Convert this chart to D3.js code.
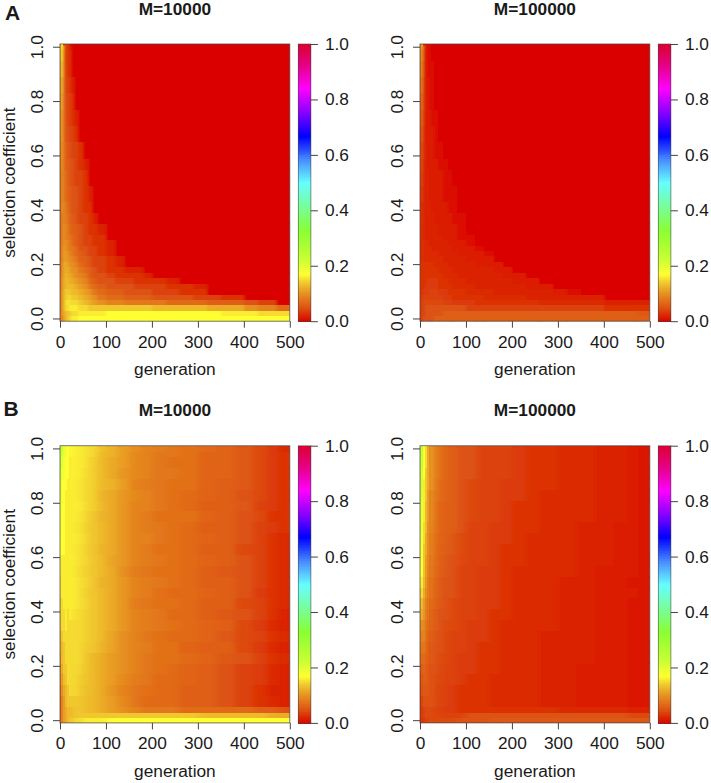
<!DOCTYPE html>
<html><head><meta charset="utf-8">
<script src="https://cdnjs.cloudflare.com/ajax/libs/d3/7.8.5/d3.min.js"></script>
<style>
html,body{margin:0;padding:0;background:#fff}
svg{display:block}
text{font-family:"Liberation Sans",Arial,sans-serif;fill:#1a1a1a}
</style></head><body>
<script>
// ---- data: values in hundredths; missing trailing cells are 0
const xTicks = [0,100,200,300,400,500];
const yTicks = [0,0.2,0.4,0.6,0.8,1.0];
const barTicks = [0,0.2,0.4,0.6,0.8,1.0];
const panelTitles = ["M=10000","M=100000"];
const panelLetters = ["A","B"];

const genA = [0,3,6,10,15,20,25,30,40,50,60,70,80,100,120,140,160,180,200,230,260,290,320,350,400,430,470];
const selA = [0,.02,.04,.06,.08,.10,.12,.14,.16,.18,.20,.22,.24,.26,.28,.30,.32,.36,.40,.44,.50,.56,.60,.66,.72,.78,.84,.90,.96,1.0];
const genB = [0,3,6,10,15,20,30,40,50,60,80,100,125,150,175,200,230,260,300,340,380,420,450,475];
const selB = [0,.02,.04,.06,.10,.14,.18,.22,.26,.30,.34,.38,.42,.46,.50,.54,.58,.62,.66,.70,.74,.78,.82,.86,.90,.94,.98,1.0];

const a10000 = [
[7,9,11,13,14,15,16,16,17,17,17,17,17,17,17,17,17,17,17,17,17,17,17,17,17,17,17],
[7,10,12,13,14,14,15,15,16,16,16,16,16,17,17,17,17,17,17,17,17,17,17,16,16,15,15],
[7,10,13,15,15,16,16,16,15,15,14,14,14,14,14,14,14,14,13,13,13,13,12,12,10,9,7],
[7,10,13,15,16,15,15,15,14,13,12,11,10,9,9,8,8,8,8,7,7,7,6,6,5,4],
[7,10,13,14,15,15,14,14,13,12,11,10,8,7,7,6,6,6,5,5,5,4,4,3],
[7,10,13,14,14,14,13,13,12,11,10,8,7,6,6,5,5,5,4,4,3,3],
[6,10,12,13,13,13,13,12,11,10,8,7,6,5,5,5,4,4,4,3,3,2],
[6,10,12,13,13,12,12,11,10,9,7,6,5,5,4,4,3,3,3,2],
[6,9,12,13,12,12,11,10,9,8,6,5,5,4,3,3,3,2],
[6,9,12,12,12,11,10,10,8,7,6,5,4,3,3,2,2],
[6,9,12,12,11,10,10,9,7,6,5,4,4,3,2],
[6,9,11,11,10,10,9,8,6,6,5,4,4,3,2],
[6,9,11,11,10,9,8,7,6,5,4,4,3,2],
[5,9,11,10,9,8,8,7,5,5,4,4,3,2],
[5,9,10,10,9,8,7,6,5,4,4,3,3,2],
[5,9,10,9,8,8,7,6,5,4,4,3,3],
[5,9,10,9,8,7,6,6,5,4,3,3,2],
[5,9,9,8,8,6,6,5,4,4,3,2],
[5,10,9,8,7,6,5,5,4,3,3],
[5,10,8,7,6,6,5,5,4,3,2],
[5,10,8,7,6,5,5,4,4,3],
[5,11,7,6,6,5,5,4,3,2],
[6,11,7,6,5,5,4,4,3],
[6,12,6,5,5,4,4,3],
[6,12,6,5,4,4,3,2],
[7,13,5,5,4,4,3],
[7,14,5,4,4,3,2],
[8,15,5,4,3,3],
[9,16,4,4,3,3],
[10,17,4,4,3,2]];

const a100000 = [
[3,4,5,5,5,5,5,6,6,6,6,6,6,6,6,6,6,6,6,6,6,6,6,6,6,6,6],
[3,4,4,5,5,5,5,5,5,6,6,6,6,6,6,6,6,6,6,6,6,6,6,6,6,6,5.5],
[3,4,4,5,5,5,5,5,5,5,5,5,5,4,4,4,4,4,4,4,4,4,4,4,3,3,3],
[3,4,4,4.5,4.5,4.5,4.5,4.5,4.5,4,4,3.5,3.5,3.5,3,3,3,3,3,3,2.5,2.5,2.5,2.5,2,2,2],
[3,3.5,4,4,4,4,4,4,4,3.5,3.5,3,3,3,3,2.5,2.5,2.5,2.5,2,2,2,2,2],
[3,3,3.5,3.5,3.5,4,4,4,3.5,3.5,3,3,3,2.5,2.5,2.5,2,2,2,2,2,1.5,1],
[3,3,3,3.5,3.5,3.5,3.5,3.5,3,3,3,2.5,2.5,2.5,2,2,2,2,2,1.5,1.5],
[3,3,3,3,3.5,3.5,3.5,3.5,3,3,2.5,2.5,2.5,2,2,2,2,2,1.5,1.5],
[3,3,3,3,3,3,3,3,3,2.5,2.5,2.5,2,2,2,2,2,1.5,1.5],
[3,3,3,3,3,3,3,3,2.5,2.5,2.5,2,2,2,2,2,1.5,1.5],
[3,3,3,3,3,3,3,2.5,2.5,2.5,2,2,2,2,1.5,1.5,1.5],
[2.5,3,2.5,2.5,2.5,2.5,2.5,2.5,2.5,2,2,2,2,1.5,1.5,1.5],
[2.5,3,2.5,2.5,2.5,2.5,2.5,2.5,2,2,2,2,1.5,1.5,1.5,1],
[2.5,3,2.5,2.5,2.5,2.5,2,2,2,2,2,1.5,1.5,1.5,1],
[2.5,3,2.5,2.5,2,2,2,2,2,2,1.5,1.5,1.5,1],
[2.5,3,2,2,2,2,2,2,2,1.5,1.5,1.5,1,1],
[2.5,3,2,2,2,2,2,2,1.5,1.5,1.5,1.5,1],
[3,3,2,2,2,2,2,1.5,1.5,1.5,1.5,1,1],
[3,3,2,2,2,2,1.5,1.5,1.5,1.5,1,1],
[3,3.5,2,2,2,1.5,1.5,1.5,1.5,1,1,1],
[4,4,2,2,2,1.5,1.5,1.5,1.5,1,1],
[4,4.5,2,2,1.5,1.5,1.5,1.5,1,1],
[4,5,2,2,1.5,1.5,1.5,1,1],
[4,6,2,1.5,1.5,1.5,1.5,1],
[5,7,2,1.5,1.5,1.5,1,1],
[5,8,2,1.5,1.5,1,1],
[6,9,2,1.5,1.5,1,1],
[7,10,2,1.5,1,1,1],
[7,11,2,1.5,1,1],
[8,12,2,1.5,1,1]];

const b10000 = [
[7,9,11,12,13,14,15,15,16,16,16,17,17,17,17,17,17,17,17,17,17,17,17,17],
[6,9,11,12,13,13,14,14,14,14,14,14,14,14,14,14,14,14,13,13,13,13,12,12],
[6,9,11,12,13,13,14,14,13,13,12,11,10,9,8,8,8,7,7,7,7,6,6,5],
[6,9,11,13,14,14,14,14,13,13,12,11,9.5,8,7,7,7,6,6,5,4,3,2.5,2],
[7,10,12,13,14,15,15,14,13.5,13,12,10.5,9,8,7.5,7,7,6,6,5,4,3,2,2],
[8,11,13,14,15,15,15,14,14,13,12,11,9.5,8.5,8,7,7,6.5,6,5,4,3.5,2.5,2],
[9,12,14,14,15,15,15,14.5,14,13,12,11,10,9,8,7.5,7,6.5,6,5,4,3.5,2.5,2],
[10,13,14,15,15,15,15,15,14,13,12,11,10,9,8,7.5,7.5,7,6.5,5.5,5,4,3,2.5],
[11,13,14,15,15,15,15,15,14,14,12.5,11.5,10,9,8.5,7.5,7.5,6.5,6,6,4.5,3.5,2.5,2],
[12,14,15,15,15,15,15,15,14.5,14,13,11.5,10,9,8,7.5,7,7,6.5,5.5,4.5,4,3,2.5],
[13,15,15,16,15,15,15,15,14.5,14,13,12,10.5,9,8.5,8,7.5,7,6.5,6,4.5,3.5,2.5,2],
[13,15,15,16,15,16,15,15,14.5,14,13,12,10.5,9,8.5,8,7,7,6,5.5,5,4,3,2],
[14,15,16,16,16,16,16,15,15,14,13,12,10.5,8.5,8,7.5,7.5,7,6,6,4.5,4,3,2.5],
[15,16,16,16,16,16,16,15,14.5,14,13,12,10.5,9,8.5,7.5,7,7,6.5,6,5,3.5,3,2.5],
[15,16,16,16,16,16,16,15,15,14,12.5,12,10.5,9,8.5,8,7.5,7,6,6,5,4,3,2.5],
[16,16,16,16,16,16,15.5,15,14.5,14,13,12,10,8.5,8,7.5,7.5,7,6,5.5,5,4,3,2.5],
[16,16,16,16,16,16,16,15,15,14,13,11.5,10.5,9,8.5,8,7.5,7,6.5,6,5,4,3,2.5],
[17,17,17,16,16,16,15.5,15.5,14.5,14,12.5,12,10.5,9,8.5,7.5,7.5,7,6,6,4.5,4,3,2.5],
[17,17,17,16,16,16,16,15.5,15,14,13,12,10.5,9,9,8,7.5,7,6.5,6,5,4,3,2.5],
[18,17,17,16,16,16,15.5,15.5,14.5,14,13,12,10.5,9,8.5,8,7.5,7,6,6,5,4,3.5,3],
[18,17,17,16,16,16,16,15.5,15,14,12.5,12,10.5,9,8.5,7.5,7.5,7.5,6.5,6,5,4.5,3,3],
[18,18,17,16,16,16,16,16,15,14.5,13,12,10.5,9,9,8,7.5,7,6,6,5.5,4,3.5,3],
[19,18,17,16,16,16,16,15.5,15,14.5,12.5,12,10.5,9.5,9,8,7.5,7,6.5,6,5,4.5,3.5,3],
[20,18,17,17,16,16,16,15.5,15,14.5,13,12.5,11,9,8.5,8,7.5,7.5,6.5,6,5.5,4.5,3.5,3],
[21,19,18,17,17,16,16,16,15,14.5,13,12,10.5,9.5,9,8,8,7.5,6.5,6.5,5.5,4.5,3.5,3],
[23,20,18,17,17,16,16,16,15.5,14.5,13,12,11,9.5,9,8,7.5,7.5,6.5,6.5,5.5,4.5,3.5,3],
[25,21,19,18,17,16.5,16,16,15.5,15,13,12.5,11,9.5,9,8,8,7.5,6.5,6.5,5.5,4.5,3.5,3],
[27,22,19,18,17,16.5,16,16,15.5,15,13.5,12.5,11,10,9,8.5,8,7.5,7,6.5,5.5,4.5,3.5,2.5]];

const b100000 = [
[2.5,3,3.5,4,4,4.5,4.5,4.5,4.5,4.5,5,5,5,5.5,5.5,5.5,5.5,5.5,5.5,5.5,5.5,5.5,5.5,5.5],
[3,3.5,4,4.5,4.5,4.5,4.5,4,4,4,4,5,5,5,5,5,5,5,5,5,5,5,4.5,4.5],
[3,3.5,4,4.5,4.5,4.5,4,4,3.5,3.5,3,3,3,3,3,3,3,3,2.5,2.5,2.5,2.5,2,2],
[3,4,5,5,5,5,4.5,4,4,3.5,3,3,3,2.5,2.5,2.5,2.5,2,2,1.5,1.5,1.5,1.2,1.2],
[3.5,5,5.5,5.5,5.5,5,4.5,4,4,3.5,3,3,3,2.5,2.5,2.5,2.5,2,2,1.5,1.5,1.5,1.2,1.2],
[4,5.5,6,6,5.5,5,4.5,4.5,4,4,3.5,3,3,2.5,2.5,2.5,2.5,2,2,1.5,1.5,1.5,1.2,1.2],
[5,6,6.5,6,5.5,5,5,4.5,4,4,3.5,3.5,3,3,2.5,2.5,2.5,2,2,1.5,1.5,1.5,1.2,1.2],
[6,7,7,6.5,6,5.5,5,4.5,4.5,4,3.5,3.5,3,3,2.5,2.5,2.5,2,2,2,1.5,1.5,1.2,1.2],
[7,8,8,7,6,5.5,5,5,4.5,4,4,3.5,3,3,2.5,2.5,2.5,2,2,2,1.5,1.5,1.2,1.2],
[8,9,9,7.5,6.5,6,5,5,4.5,4,4,3.5,3.5,3,2.5,2.5,2.5,2,2,2,1.5,1.5,1.2,1.2],
[9,10,9.5,8,7,6.5,5.5,5,4.5,4.5,4,3.5,3.5,3,2.5,2.5,2.5,2.5,2,2,1.5,1.5,1.2,1.2],
[11,12,10.5,8.5,7.5,6.5,5.5,5,5,4.5,4,4,3.5,3,3,2.5,2.5,2.5,2,2,1.5,1.5,1.2,1.2],
[12,13,11,9,8,7,6,5.5,5,4.5,4,4,3.5,3.5,3,2.5,2.5,2.5,2,2,1.5,1.5,1.2,1.2],
[14,15,12,10,8.5,7.5,6.5,5.5,5,5,4,4,3.5,3.5,3,2.5,2.5,2.5,2,2,1.5,1.5,1.5,1.2],
[16,16,13,10.5,8.5,7.5,6.5,5.5,5,5,4,4,3.5,3.5,3,2.5,2.5,2.5,2,2,1.5,1.5,1.2,1.2],
[17,17,13.5,11,9,8,6.5,6,5.5,5,4,4,3.5,3.5,3,2.5,2.5,2.5,2.5,2,1.5,1.5,1.5,1.2],
[18,17,14,11,9.5,8,7,6,5.5,5,4.5,4,4,3.5,3,3,2.5,2.5,2.5,2,2,1.5,1.5,1.2],
[19,18,14,12,10,8.5,7,6,6,5.5,4.5,4,4,3.5,3,3,2.5,2.5,2.5,2,2,1.5,1.5,1.2],
[20,18,15,12,10,8.5,7,6.5,6,5.5,4.5,4,4,3.5,3.5,3,2.5,2.5,2.5,2,2,1.5,1.5,1.2],
[21,19,15,13,10,9,7.5,6.5,6,6,5,4,4,3.5,3.5,3,3,2.5,2.5,2,2,1.5,1.5,1.2],
[21,19,16,13,11,9,7.5,6.5,6,6,5,4.5,4,4,3.5,3,3,2.5,2.5,2.5,2,2,1.5,1.2],
[22,19,16,13,11,9,7.5,6.5,6,6,5,4.5,4,4,3.5,3,3,2.5,2.5,2.5,2,2,1.5,1.2],
[23,20,16,14,11,9,8,7,6.5,6,5,4.5,4,4,3.5,3.5,3,2.5,2.5,2.5,2,2,1.5,1.2],
[24,21,16,14,12,10,8,7,6.5,6,5,4.5,4,4,3.5,3.5,3,3,2.5,2.5,2,2,1.5,1.2],
[24,21,17,14,12,10,8.5,7.5,6.5,6,5,5,4,4,4,3.5,3,3,2.5,2.5,2,2,1.5,1.2],
[25,22,17,15,12,10,8.5,7.5,6.5,6,5,5,4,4,4,3.5,3,3,2.5,2.5,2,2,1.5,1.2],
[26,22,17,15,12,10,8.5,7.5,6.5,6,5,5,4,4,4,3.5,3,3,2.5,2.5,2,2,1.5,1.2],
[27,23,17,15,12,10,8.5,7.5,6.5,6,5,5,4,4,4,3.5,3,3,2.5,2.5,2,2,1.5,1.2]];

// colour ramp
const rampStops  = [0,.02,.05,.10,.14,.17,.22,.33,.42,.50,.58,.67,.75,.84,.92,1];
const rampColors = ["#da0000","#db2200","#dd5212","#e68f20","#f0c82e","#ffff33","#ccff33","#88ff33","#77ffa0","#66ffff","#4a90ff","#0000ff","#8000ff","#ff00ff","#e60088","#dd0033"];

// ---- drawing
const W = 711, H = 783;
const colour = d3.scaleLinear().domain(rampStops).range(rampColors).interpolate(d3.interpolateRgb).clamp(true);
const svg = d3.select("body").append("svg").attr("width",W).attr("height",H);
const defs = svg.append("defs");
[["softA","1.4 0.5"],["softB","3.5 0.4"]].forEach(([id,sd])=>{
  defs.append("filter").attr("id",id)
    .attr("filterUnits","userSpaceOnUse").attr("x",0).attr("y",0).attr("width",W).attr("height",H)
    .append("feGaussianBlur").attr("stdDeviation",sd);
});

const FS = 17.3, AXC = "#444";
const panels = [
 {matrix:a10000, gens:genA, sels:selA, col:0, row:0, soft:"softA", softFrom:0},
 {matrix:a100000,gens:genA, sels:selA, col:1, row:0, soft:"softA", softFrom:0},
 {matrix:b10000, gens:genB, sels:selB, col:0, row:1, soft:"softB", softFrom:25},
 {matrix:b100000,gens:genB, sels:selB, col:1, row:1, soft:"softB", softFrom:25}
];
const colLeft = [60,420], rowTop = [44,445.7], plotW = 229.8, plotH = 277.2;
const barGap = 8.5, barW = 12.6;

panels.forEach((p,i)=>{
  const left = colLeft[p.col], top = rowTop[p.row];
  const x = d3.scaleLinear().domain([0,500]).range([left,left+plotW]);
  const y = d3.scaleLinear().domain([-0.01,1.01]).range([top+plotH,top]);
  const g = svg.append("g");
  const cid = "clip"+i, sid = "softclip"+i, gid = "cells"+i;
  defs.append("clipPath").attr("id",cid).append("rect")
    .attr("x",left).attr("y",top).attr("width",plotW).attr("height",plotH);
  defs.append("clipPath").attr("id",sid).append("rect")
    .attr("x",x(p.softFrom)).attr("y",top+1.5).attr("width",x(500)-x(p.softFrom)-3).attr("height",plotH-3);
  const holder = g.append("g").attr("clip-path",`url(#${cid})`);
  const cells = holder.append("g").attr("id",gid).attr("shape-rendering","crispEdges");
  p.sels.forEach((s,r)=>{
    const yBottom = s-0.01, yTop = r<p.sels.length-1 ? p.sels[r+1]-0.01 : 1.01;
    p.gens.forEach((gen,c)=>{
      const next = c<p.gens.length-1 ? p.gens[c+1] : 500;
      const v = (p.matrix[r][c] ?? 0)/100;
      cells.append("rect")
        .attr("x",x(gen)).attr("width",x(next)-x(gen)+0.5)
        .attr("y",y(yTop)).attr("height",y(yBottom)-y(yTop)+0.5)
        .attr("fill",colour(v));
    });
  });
  holder.append("g").attr("clip-path",`url(#${sid})`)
    .append("use").attr("href","#"+gid).attr("filter",`url(#${p.soft})`);
  g.append("rect").attr("x",left).attr("y",top).attr("width",plotW).attr("height",plotH)
    .attr("fill","none").attr("stroke",AXC).attr("stroke-width",0.9).attr("stroke-opacity",0.8);

  const xA = g.append("g").attr("transform",`translate(0,${top+plotH})`)
    .call(d3.axisBottom(x).tickValues(xTicks).tickSize(6.5).tickFormat(d3.format("d")));
  xA.select(".domain").remove();
  xA.selectAll("line").attr("stroke",AXC);
  xA.selectAll("text").attr("font-size",FS).attr("y",26.6).attr("dy",null).attr("fill","#1a1a1a");

  const yA = g.append("g").attr("transform",`translate(${left},0)`)
    .call(d3.axisLeft(y).tickValues(yTicks).tickSize(7).tickFormat(d3.format(".1f")));
  yA.select(".domain").remove();
  yA.selectAll("line").attr("stroke",AXC);
  yA.selectAll("text").attr("font-size",FS).attr("x",null).attr("y",null).attr("dy",null)
    .attr("text-anchor","middle").attr("fill","#1a1a1a")
    .attr("transform","translate(-17,0) rotate(-90)");

  g.append("text").attr("x",left+plotW/2).attr("y",top+plotH+54).attr("text-anchor","middle")
    .attr("font-size",FS).text("generation");
  g.append("text").attr("x",left+plotW/2).attr("y",top-29.3).attr("text-anchor","middle")
    .attr("font-size",FS).attr("font-weight","bold").attr("fill","#111").text(panelTitles[p.col]);
  if(p.col===0){
    g.append("text").attr("transform",`translate(15,${top+plotH/2}) rotate(-90)`)
      .attr("text-anchor","middle").attr("font-size",FS).text("selection coefficient");
    g.append("text").attr("x",p.row?3.5:5).attr("y",top-(p.row?30:24)).attr("font-size",21)
      .attr("font-weight","bold").attr("fill","#111").text(panelLetters[p.row]);
  }

  // colour bar
  const bx = left+plotW+barGap;
  const bar = d3.scaleLinear().domain([0,1]).range([top+plotH,top]);
  const steps = d3.range(0,1,1/140);
  g.append("g").attr("shape-rendering","crispEdges").selectAll("rect").data(steps).join("rect")
    .attr("x",bx).attr("width",barW)
    .attr("y",d=>bar(d+1/140)).attr("height",d=>bar(d)-bar(d+1/140)+0.6)
    .attr("fill",d=>colour(d+1/280));
  g.append("rect").attr("x",bx).attr("y",top).attr("width",barW).attr("height",plotH)
    .attr("fill","none").attr("stroke",AXC).attr("stroke-width",0.8).attr("stroke-opacity",0.7);
  const bA = g.append("g").attr("transform",`translate(${bx+barW},0)`)
    .call(d3.axisRight(bar).tickValues(barTicks).tickSize(7).tickFormat(d3.format(".1f")));
  bA.select(".domain").remove();
  bA.selectAll("line").attr("stroke",AXC);
  bA.selectAll("text").attr("font-size",FS).attr("x",14).attr("fill","#1a1a1a");
});
</script>
</body></html>
